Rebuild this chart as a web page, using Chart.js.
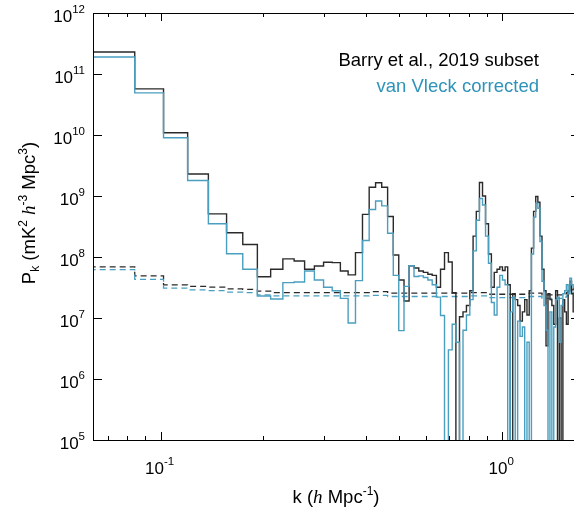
<!DOCTYPE html>
<html>
<head>
<meta charset="utf-8">
<script src="https://cdn.jsdelivr.net/npm/chart.js@4/dist/chart.umd.min.js"></script>
<style>
  html, body { margin: 0; padding: 0; background: #fff; overflow: hidden; }
  #wrap { position: relative; width: 582px; height: 508px; }
</style>
</head>
<body>
<div id="wrap"><canvas id="pk" width="582" height="508"></canvas></div>
<script>
// left bin edges in k (h/Mpc); first bin is cut by the axis, last entry closes the last bin
const K_EDGES = [
  0.062, 0.084, 0.102, 0.120, 0.138, 0.156, 0.174, 0.192, 0.210, 0.228,
  0.246, 0.264, 0.282, 0.300, 0.318, 0.336, 0.354, 0.372, 0.390, 0.408,
  0.426, 0.444, 0.462, 0.480, 0.498, 0.516, 0.534, 0.552, 0.570, 0.588,
  0.606, 0.624, 0.642, 0.660, 0.678, 0.696, 0.714, 0.732, 0.750, 0.768,
  0.786, 0.804, 0.822, 0.840, 0.858, 0.876, 0.894, 0.912, 0.930, 0.948,
  0.966, 0.984, 1.002, 1.020, 1.038, 1.056, 1.074, 1.092, 1.110, 1.128,
  1.146, 1.164, 1.182, 1.200, 1.218, 1.236, 1.254, 1.272, 1.290, 1.308,
  1.326, 1.344, 1.362, 1.380, 1.398, 1.416, 1.434, 1.452, 1.470, 1.488,
  1.506, 1.524, 1.542, 1.560, 1.578, 1.596, 1.614, 1.632, 1.650, 1.668,
  1.686
];

// power per bin; 1e4 = negative bin, falls below the axis
const PK_BARRY = [
  2.3e11, 5.7e10, 1.09e10, 2.3e9, 5.1e8, 2.5e8, 1.6e8, 4.75e7, 6.3e7, 9.3e7,
  8.6e7, 6.3e7, 7.1e7, 8.2e7, 8.1e7, 5.9e7, 5.1e7, 1.18e8, 5.0e8, 1.39e9,
  1.65e9, 1.39e9, 4.6e8, 1.08e8, 4.2e7, 1.9e7, 7.2e7, 6.6e7, 5.9e7, 5.6e7,
  5.2e7, 5.0e7, 3.2e7, 6.3e7, 1.18e8, 8.3e7, 2.6e7, 1e4, 1.05e7, 1.26e7,
  1.6e7, 2.8e7, 2.2e8, 5.6e8, 1.66e9, 1.0e9, 3.5e8, 1.12e8, 3.2e7, 5.6e7,
  6.3e7, 6.9e7, 6.0e7, 6.9e7, 3.5e7, 1e4, 2.5e7, 2.0e7, 1.6e7, 8.9e6,
  1.26e7, 2.0e7, 1.12e7, 2.8e7, 1.4e8, 5.6e8, 9.8e8, 7.9e8, 2.2e8, 6.3e7,
  2.8e7, 3.5e6, 2.5e7, 2.0e7, 1.6e7, 7.9e6, 2.8e7, 1e4, 1.0e7, 1e4,
  2.0e7, 1.26e7, 7.9e6, 2.8e7, 4.0e7, 2.5e7, 1.26e7, 1.4e7, 1.6e7, 1.8e7
];

const PK_VANVLECK = [
  1.9e11, 4.9e10, 9.0e9, 1.8e9, 3.5e8, 1.13e8, 6.3e7, 2.3e7, 2.05e7, 3.8e7,
  3.9e7, 5.9e7, 4.2e7, 3.2e7, 2.8e7, 2.1e7, 8.3e6, 4.1e7, 1.86e8, 6.0e8,
  8.3e8, 6.9e8, 2.45e8, 5.0e7, 6.2e6, 3.3e7, 7.2e7, 4.8e7, 4.9e7, 4.6e7,
  4.2e7, 3.5e7, 2.2e7, 1.1e7, 1e4, 3.0e6, 7.9e6, 4.0e6, 1e4, 6.3e6,
  1.12e7, 2.0e7, 1.26e8, 4.0e8, 9.1e8, 7.1e8, 2.2e8, 7.9e7, 1.8e7, 1.12e7,
  3.2e7, 5.0e7, 4.2e7, 3.5e7, 1e4, 1.26e7, 2.2e7, 1e4, 8.9e6, 5.0e6,
  7.1e6, 1e4, 4.0e6, 1e4, 1.12e8, 4.5e8, 7.6e8, 6.3e8, 1.8e8, 4.0e7,
  1.6e7, 6.3e6, 1e4, 1.26e7, 1e4, 7.1e6, 2.0e7, 2.2e7, 4.0e6, 1.6e7,
  2.5e7, 2.8e7, 3.5e7, 2.5e7, 4.5e7, 3.5e7, 3.2e7, 4.0e7, 3.5e7, 3.2e7
];

// noise level (dashed)
const NOISE_BARRY = [
  6.9e7, 4.9e7, 3.5e7, 3.3e7, 3.2e7, 3.0e7, 2.95e7, 2.75e7, 2.6e7, 2.6e7,
  2.6e7, 2.6e7, 2.6e7, 2.6e7, 2.6e7, 2.6e7, 2.6e7, 2.6e7, 2.6e7, 2.7e7,
  2.7e7, 2.7e7, 2.55e7, 2.55e7, 2.55e7, 2.55e7, 2.55e7, 2.55e7, 2.55e7, 2.55e7,
  2.55e7, 2.55e7, 2.55e7, 2.55e7, 2.55e7, 2.55e7, 2.55e7, 2.55e7, 2.55e7, 2.55e7,
  2.55e7, 2.6e7, 2.6e7, 2.6e7, 2.6e7, 2.6e7, 2.6e7, 2.45e7, 2.45e7, 2.45e7,
  2.45e7, 2.45e7, 2.45e7, 2.45e7, 2.45e7, 2.45e7, 2.45e7, 2.45e7, 2.45e7, 2.45e7,
  2.45e7, 2.45e7, 2.45e7, 2.55e7, 2.55e7, 2.55e7, 2.55e7, 2.55e7, 2.55e7, 2.4e7,
  2.4e7, 2.4e7, 2.4e7, 2.4e7, 2.4e7, 2.4e7, 2.4e7, 2.4e7, 2.4e7, 2.4e7,
  2.4e7, 2.5e7, 2.6e7, 2.7e7, 2.8e7, 2.9e7, 3.0e7, 3.1e7, 3.2e7, 3.3e7
];

const NOISE_VANVLECK = [
  6.2e7, 4.3e7, 3.1e7, 2.9e7, 2.8e7, 2.65e7, 2.6e7, 2.4e7, 2.3e7, 2.3e7,
  2.3e7, 2.3e7, 2.3e7, 2.3e7, 2.3e7, 2.3e7, 2.3e7, 2.3e7, 2.3e7, 2.35e7,
  2.35e7, 2.35e7, 2.25e7, 2.25e7, 2.25e7, 2.25e7, 2.25e7, 2.25e7, 2.25e7, 2.25e7,
  2.25e7, 2.25e7, 2.25e7, 2.25e7, 2.25e7, 2.25e7, 2.25e7, 2.25e7, 2.25e7, 2.25e7,
  2.25e7, 2.3e7, 2.3e7, 2.3e7, 2.3e7, 2.3e7, 2.3e7, 2.15e7, 2.15e7, 2.15e7,
  2.15e7, 2.15e7, 2.15e7, 2.15e7, 2.15e7, 2.15e7, 2.15e7, 2.15e7, 2.15e7, 2.15e7,
  2.15e7, 2.15e7, 2.15e7, 2.25e7, 2.25e7, 2.25e7, 2.25e7, 2.25e7, 2.25e7, 2.1e7,
  2.1e7, 2.1e7, 2.1e7, 2.1e7, 2.1e7, 2.1e7, 2.1e7, 2.1e7, 2.1e7, 2.1e7,
  2.1e7, 2.2e7, 2.3e7, 2.4e7, 2.5e7, 2.55e7, 2.65e7, 2.75e7, 2.8e7, 2.9e7
];

const X_RANGE = [0.0634, 1.69];
const Y_RANGE = [1e5, 1e12];
const X_MAJOR_TICKS = [0.1, 1];
const X_MINOR_TICKS = [0.07, 0.08, 0.09, 0.2, 0.3, 0.4, 0.5, 0.6, 0.7, 0.8, 0.9];
const Y_TICKS = [1e5, 1e6, 1e7, 1e8, 1e9, 1e10, 1e11, 1e12];
const LEGEND = ['Barry et al., 2019 subset', 'van Vleck corrected'];

const BLACK = '#2a2a2a';
const TEAL = '#4a9fc0';
const TEAL_TEXT = '#2e93b8';
const SANS = '"Liberation Sans", Arial, Helvetica, sans-serif';
const F_TICK = `17px ${SANS}`;
const F_TICK_SUP = `11.5px ${SANS}`;
const F_TITLE = `18.5px ${SANS}`;
const F_TITLE_SUP = `12px ${SANS}`;
const F_ITAL = 'italic 19px "Liberation Serif", "Times New Roman", serif';

// step-before: each bin's value holds from its left edge to the next edge
function steps(values) {
  return K_EDGES.map((k, i) => ({ x: k, y: values[Math.min(i, values.length - 1)] }));
}

function line(label, values, color, dashed, order) {
  return {
    label,
    data: steps(values),
    borderColor: color,
    borderWidth: dashed ? 1.3 : 1.4,
    borderDash: dashed ? [6, 4] : [],
    pointRadius: 0,
    stepped: 'before',
    fill: false,
    order,
  };
}

// draws a run of text pieces (base / super / subscript) on one baseline
function richText(ctx, parts, x, y, align) {
  let w = 0;
  parts.forEach(p => { ctx.font = p.font; w += ctx.measureText(p.text).width; });
  let cx = align === 'center' ? x - w / 2 : align === 'right' ? x - w : x;
  ctx.textAlign = 'left';
  ctx.textBaseline = 'alphabetic';
  parts.forEach(p => {
    ctx.font = p.font;
    ctx.fillText(p.text, cx, y + (p.dy || 0));
    cx += ctx.measureText(p.text).width;
  });
}

function powLabel(v) {
  const e = Math.round(Math.log10(v));
  return [{ text: '10', font: F_TICK }, { text: String(e), font: F_TICK_SUP, dy: -9 }];
}

const framePlugin = {
  id: 'frame',
  afterDraw(chart) {
    const { ctx, chartArea: a, scales: { x, y } } = chart;
    ctx.save();
    ctx.strokeStyle = '#000';
    ctx.lineWidth = 1;
    ctx.beginPath();
    ctx.rect(a.left + 0.5, a.top + 0.5, a.right - a.left, a.bottom - a.top);
    ctx.stroke();

    ctx.beginPath();
    X_MAJOR_TICKS.concat(X_MINOR_TICKS).forEach(v => {
      const px = Math.round(x.getPixelForValue(v)) + 0.5;
      const len = X_MAJOR_TICKS.includes(v) ? 8 : 4;
      ctx.moveTo(px, a.bottom); ctx.lineTo(px, a.bottom - len);
      ctx.moveTo(px, a.top); ctx.lineTo(px, a.top + len);
    });
    Y_TICKS.forEach(v => {
      const py = Math.round(y.getPixelForValue(v)) + 0.5;
      ctx.moveTo(a.left, py); ctx.lineTo(a.left + 9, py);
      ctx.moveTo(a.right, py); ctx.lineTo(a.right - 9, py);
    });
    ctx.stroke();

    ctx.fillStyle = '#000';
    X_MAJOR_TICKS.forEach(v => {
      richText(ctx, powLabel(v), x.getPixelForValue(v) - 1, a.bottom + 34, 'center');
    });
    Y_TICKS.forEach(v => {
      richText(ctx, powLabel(v), a.left - 8, y.getPixelForValue(v) + 9, 'right');
    });

    // x title
    richText(ctx, [
      { text: 'k (', font: F_TITLE },
      { text: 'h', font: F_ITAL },
      { text: ' Mpc', font: F_TITLE },
      { text: '-1', font: F_TITLE_SUP, dy: -8 },
      { text: ')', font: F_TITLE },
    ], 336, 503, 'center');

    // y title, rotated
    ctx.save();
    ctx.translate(35, 213);
    ctx.rotate(-Math.PI / 2);
    richText(ctx, [
      { text: 'P', font: F_TITLE },
      { text: 'k', font: F_TITLE_SUP, dy: 4 },
      { text: ' (mK', font: F_TITLE },
      { text: '2', font: F_TITLE_SUP, dy: -8 },
      { text: ' ', font: F_TITLE },
      { text: 'h', font: F_ITAL },
      { text: '-3', font: F_TITLE_SUP, dy: -8 },
      { text: ' Mpc', font: F_TITLE },
      { text: '3', font: F_TITLE_SUP, dy: -8 },
      { text: ')', font: F_TITLE },
    ], 0, 0, 'center');
    ctx.restore();

    // in-plot legend
    ctx.fillStyle = '#000';
    richText(ctx, [{ text: LEGEND[0], font: F_TITLE }], 539, 66, 'right');
    ctx.fillStyle = TEAL_TEXT;
    richText(ctx, [{ text: LEGEND[1], font: F_TITLE }], 539, 92, 'right');
    ctx.restore();
  },
};

new Chart(document.getElementById('pk').getContext('2d'), {
  type: 'line',
  data: {
    datasets: [
      line(LEGEND[1], PK_VANVLECK, TEAL, false, 0),
      line(LEGEND[0], PK_BARRY, BLACK, false, 1),
      line(LEGEND[1] + ' noise', NOISE_VANVLECK, TEAL, true, 2),
      line(LEGEND[0] + ' noise', NOISE_BARRY, BLACK, true, 3),
    ],
  },
  options: {
    responsive: false,
    devicePixelRatio: 1,
    animation: false,
    layout: { padding: { left: 93, right: 2, top: 13, bottom: 68 } },
    plugins: { legend: { display: false }, tooltip: { enabled: false } },
    scales: {
      x: { type: 'logarithmic', min: X_RANGE[0], max: X_RANGE[1], display: false },
      y: { type: 'logarithmic', min: Y_RANGE[0], max: Y_RANGE[1], display: false },
    },
  },
  plugins: [framePlugin],
});
</script>
</body>
</html>
